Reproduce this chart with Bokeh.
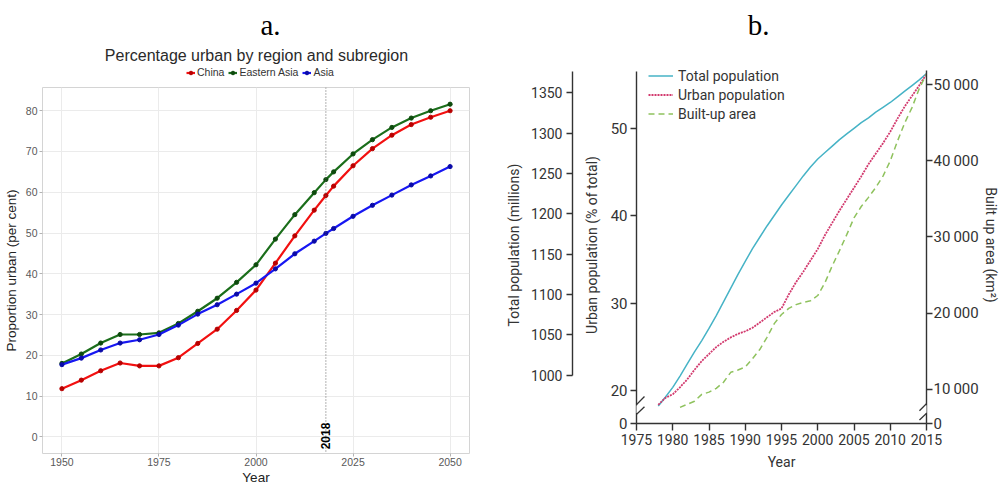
import math
from bokeh.plotting import figure
from bokeh.models import (Range1d, LinearAxis, FixedTicker, Legend, LegendItem,
                          Span, Label, Arrow)
from bokeh.layouts import row, column
from bokeh.embed import file_html
from bokeh.resources import INLINE

# ---------------- panel a data ----------------
years_a = [1950, 1955, 1960, 1965, 1970, 1975, 1980, 1985, 1990, 1995, 2000,
           2005, 2010, 2015, 2018, 2020, 2025, 2030, 2035, 2040, 2045, 2050]
china = [11.8, 13.9, 16.2, 18.1, 17.4, 17.4, 19.4, 22.9, 26.4, 31.0, 36.0,
         42.6, 49.3, 55.6, 59.2, 61.5, 66.5, 70.7, 74.0, 76.6, 78.4, 80.0]
eastern_asia = [18.0, 20.3, 23.0, 25.1, 25.1, 25.5, 27.8, 30.8, 34.0, 37.9, 42.2,
                48.5, 54.5, 59.9, 63.1, 65.0, 69.4, 72.9, 75.9, 78.2, 80.0, 81.6]
asia = [17.7, 19.3, 21.3, 23.0, 23.8, 25.1, 27.4, 30.1, 32.4, 35.0, 37.7,
        41.2, 44.9, 48.0, 49.9, 51.1, 54.1, 56.8, 59.3, 61.8, 64.0, 66.3]
series_names = ["China", "Eastern Asia", "Asia"]
ticks_a_x = [1950, 1975, 2000, 2025, 2050]
ticks_a_y = [0, 10, 20, 30, 40, 50, 60, 70, 80]
marker_year = 2018

# ---------------- panel b data ----------------
years_total = list(range(1978, 2016))
total_pop = [962, 973, 985, 999, 1014, 1029, 1043, 1058, 1074, 1091,
             1108, 1125, 1141, 1157, 1171, 1185, 1198, 1211, 1223, 1235,
             1247, 1258, 1268, 1276, 1284, 1292, 1299, 1306, 1313, 1319,
             1326, 1332, 1338, 1345, 1352, 1359, 1366, 1374]
urban_pct = [18.4, 19.2, 19.6, 20.4, 21.3, 22.4, 23.4, 24.2, 25.0, 25.6,
             26.1, 26.5, 26.8, 27.2, 27.8, 28.4, 29.0, 29.4, 31.0, 32.4,
             33.6, 34.9, 36.2, 37.8, 39.2, 40.6, 41.9, 43.2, 44.5, 45.9,
             47.1, 48.3, 49.6, 51.1, 52.5, 53.7, 54.9, 56.2]
years_built = list(range(1981, 2016))
built_area = [7600, 8000, 8400, 9300, 9600, 10100, 10900, 12200, 12500, 12900,
              14000, 15200, 16800, 18600, 19800, 20600, 21100, 21400, 21600, 22300,
              24000, 26200, 28200, 30300, 32500, 34000, 35200, 36500, 38000, 40000,
              42600, 45000, 47000, 49500, 51400]
ticks_b_x = [1975, 1980, 1985, 1990, 1995, 2000, 2005, 2010, 2015]
ticks_pop = [1000, 1050, 1100, 1150, 1200, 1250, 1300, 1350]
ticks_urban = [20, 30, 40, 50]
ticks_area = [10000, 20000, 30000, 40000, 50000]
legend_b = ["Total population", "Urban population", "Built-up area"]

SA = "Liberation Sans"
SERIF = "Liberation Serif"
line_cols = ["#f21010", "#1b6e1b", "#1717f2"]
pt_cols = ["#b80000", "#0d4a0d", "#0a0aa8"]
series_vals = [china, eastern_asia, asia]


def header(width, height):
    h = figure(width=width, height=height, x_range=Range1d(0, width), y_range=Range1d(0, height),
               x_axis_location=None, y_axis_location=None, min_border=0, title=None,
               output_backend="svg", toolbar_location=None)
    h.grid.visible = False
    h.outline_line_color = None
    h.frame_align = False
    return h


# ======================= header a (panel label, title, legend) =======================
hdr_a = header(490, 80)
hdr_a.add_layout(Label(x=270, y=56, text="a.", text_align="center", text_baseline="alphabetic",
                       text_font=SERIF, text_font_size="29px", text_color="black"))
hdr_a.add_layout(Label(x=256, y=25, text="Percentage urban by region and subregion",
                       text_align="center", text_baseline="middle", text_font=SA,
                       text_font_size="16px", text_color="#2a2a2a"))
# legend proxies: the same series, which fall outside this header's visible range
proxy_items = []
for name, vals, lc, pc in zip(series_names, series_vals, line_cols, pt_cols):
    l = hdr_a.line(years_a, vals, line_color=lc, line_width=2.2)
    s = hdr_a.scatter(years_a, vals, size=4.2, fill_color=pc, line_color=pc)
    proxy_items.append(LegendItem(label=name, renderers=[l, s]))
hdr_a.add_layout(Legend(items=proxy_items, orientation="horizontal", location=(186, 2),
                        label_text_font=SA, label_text_font_size="10.5px",
                        label_text_color="#333333", glyph_width=9, glyph_height=9,
                        label_standoff=2, spacing=4, padding=0, margin=0, label_height=12,
                        border_line_color=None, background_fill_alpha=0))

# ======================= panel a =======================
pa = figure(width=490, height=407, x_range=Range1d(1945, 2055), y_range=Range1d(-4.1, 85.7),
            title=None, output_backend="svg", toolbar_location=None,
            min_border_left=30, min_border_right=21, min_border_top=7, min_border_bottom=30)
pa.frame_align = False
pa.outline_line_color = "#d4d4d4"
pa.grid.grid_line_color = "#ebebeb"
pa.xaxis.ticker = FixedTicker(ticks=ticks_a_x)
pa.yaxis.ticker = FixedTicker(ticks=ticks_a_y)
for ax in (pa.xaxis[0], pa.yaxis[0]):
    ax.axis_line_color = None
    ax.major_tick_out = 3
    ax.major_tick_in = 0
    ax.minor_tick_out = 0
    ax.minor_tick_in = 0
    ax.major_tick_line_color = "#b3b3b3"
    ax.major_label_text_font = SA
    ax.major_label_text_font_size = "10.5px"
    ax.major_label_text_color = "#595959"
    ax.axis_label_text_font = SA
    ax.axis_label_text_font_size = "13.5px"
    ax.axis_label_text_font_style = "normal"
    ax.axis_label_text_color = "#222222"
pa.xaxis.axis_label = "Year"
pa.xaxis.major_label_standoff = 1
pa.xaxis.axis_label_standoff = 1
pa.yaxis.axis_label = "Proportion urban (per cent)"
pa.yaxis.major_label_standoff = 2
pa.yaxis.axis_label_standoff = 4

for vals, lc, pc in zip(series_vals, line_cols, pt_cols):
    pa.line(years_a, vals, line_color=lc, line_width=2.2)
    pa.scatter(years_a, vals, size=4.2, fill_color=pc, line_color=pc)

pa.add_layout(Span(location=marker_year, dimension="height", line_color="#666666",
                   line_dash="1 2", line_width=1))
pa.add_layout(Label(x=marker_year, y=0.2, text=str(marker_year), angle=math.pi / 2,
                    text_align="center", text_baseline="middle", text_font=SA,
                    text_font_size="12px", text_font_style="bold", text_color="black"))

# ======================= header b =======================
hdr_b = header(513, 50)
hdr_b.add_layout(Label(x=268, y=26, text="b.", text_align="center", text_baseline="alphabetic",
                       text_font=SERIF, text_font_size="29px", text_color="black"))

# ======================= panel b =======================
SB = "Roboto"
DARK = "#333333"
HB = 357                      # frame height (px)
U0, U1 = 16.26, 57.06        # urban axis range (frame bottom/top)
P0, P1 = 940.2, 1382.6       # population range
A0, A1 = 5474, 52408         # built-up area range

pb = figure(width=513, height=437, x_range=Range1d(1975, 2015), y_range=Range1d(U0, U1),
            title=None, output_backend="svg", toolbar_location=None,
            min_border_left=146, min_border_right=77, min_border_top=16, min_border_bottom=64)
pb.frame_align = False
pb.extra_y_ranges = {"pop": Range1d(P0, P1), "area": Range1d(A0, A1)}
pb.outline_line_color = None
pb.grid.visible = False


def style_axis(ax, size="14px"):
    ax.axis_line_color = DARK
    ax.axis_line_width = 1.4
    ax.major_tick_line_color = DARK
    ax.major_tick_line_width = 1.4
    ax.major_tick_out = 6
    ax.major_tick_in = 0
    ax.minor_tick_out = 0
    ax.minor_tick_in = 0
    ax.major_label_text_font = SB
    ax.major_label_text_font_size = size
    ax.major_label_text_color = DARK
    ax.axis_label_text_font = SB
    ax.axis_label_text_font_size = "14px"
    ax.axis_label_text_font_style = "normal"
    ax.axis_label_text_color = DARK


xa = pb.xaxis[0]
style_axis(xa)
xa.ticker = FixedTicker(ticks=ticks_b_x)
xa.major_tick_out = 7
xa.major_label_standoff = 3
xa.axis_label = "Year"
xa.axis_label_standoff = 6

ua = pb.yaxis[0]
style_axis(ua, "15px")
ua.ticker = FixedTicker(ticks=[U0] + ticks_urban)
ua.major_label_overrides = {U0: "0"}
ua.bounds = (U0, 56.52)
ua.major_label_standoff = 3
ua.axis_label = "Urban population (% of total)"
ua.axis_label_standoff = 8

# invisible spacer between the two left axes (one hidden tick gives it width)
spacer = LinearAxis(ticker=FixedTicker(ticks=[30]), major_label_overrides={30: ""},
                    axis_line_color=None, major_tick_line_color=None, major_tick_out=8,
                    major_tick_in=0, minor_tick_out=0, minor_tick_in=0,
                    major_label_standoff=0)
pb.add_layout(spacer, "left")

pop_ax = LinearAxis(y_range_name="pop")
style_axis(pop_ax)
pop_ax.ticker = FixedTicker(ticks=ticks_pop)
pop_ax.bounds = (1000, 1376)
pop_ax.major_label_standoff = 4
pop_ax.axis_label = "Total population (millions)"
pop_ax.axis_label_standoff = 6
pb.add_layout(pop_ax, "left")

ar_ax = LinearAxis(y_range_name="area")
style_axis(ar_ax, "15px")
ar_ax.ticker = FixedTicker(ticks=[A0] + ticks_area)
ar_ax.major_label_overrides = {A0: "0", **{t: f"{t // 1000}\u2009000" for t in ticks_area}}
ar_ax.bounds = (A0, 51880)
ar_ax.major_label_standoff = 1
ar_ax.axis_label = "Built up area (km²)"
ar_ax.axis_label_standoff = 1
pb.add_layout(ar_ax, "right")

CYAN, CRIMSON, GREEN = "#46b3c6", "#d23a6e", "#8fc25e"
r_tot = pb.line(years_total, total_pop, y_range_name="pop", line_color=CYAN, line_width=1.5)
r_urb = pb.line(years_total, urban_pct, line_color=CRIMSON, line_width=1.8, line_dash="2 1")
r_are = pb.line(years_built, built_area, y_range_name="area", line_color=GREEN,
                line_width=1.5, line_dash="6 4")

pb.add_layout(Legend(items=[LegendItem(label=legend_b[0], renderers=[r_tot]),
                            LegendItem(label=legend_b[1], renderers=[r_urb]),
                            LegendItem(label=legend_b[2], renderers=[r_are])],
                     location=(12, HB - 57), orientation="vertical",
                     label_text_font=SB, label_text_font_size="14px", label_text_color=DARK,
                     glyph_width=25, glyph_height=19, label_height=19, label_standoff=5,
                     spacing=0, padding=0, margin=0, border_line_color=None,
                     background_fill_alpha=0))

# axis breaks (//) on the urban and built-up axes
for xb in (1975, 2015):
    pb.add_layout(Arrow(end=None, x_start=xb, y_start=17.45, x_end=xb, y_end=18.34,
                        line_color="white", line_width=3))
for x0, x1 in ((1974.17, 1976.1), (2014.03, 2015.97)):
    pb.add_layout(Arrow(end=None, x_start=x0, y_start=17.71, x_end=x1, y_end=19.35,
                        line_color=DARK, line_width=1.3))
    pb.add_layout(Arrow(end=None, x_start=x0, y_start=16.65, x_end=x1, y_end=18.17,
                        line_color=DARK, line_width=1.3))

layout = row(column(hdr_a, pa), column(hdr_b, pb))
open("out.html", "w").write(file_html(layout, INLINE))
